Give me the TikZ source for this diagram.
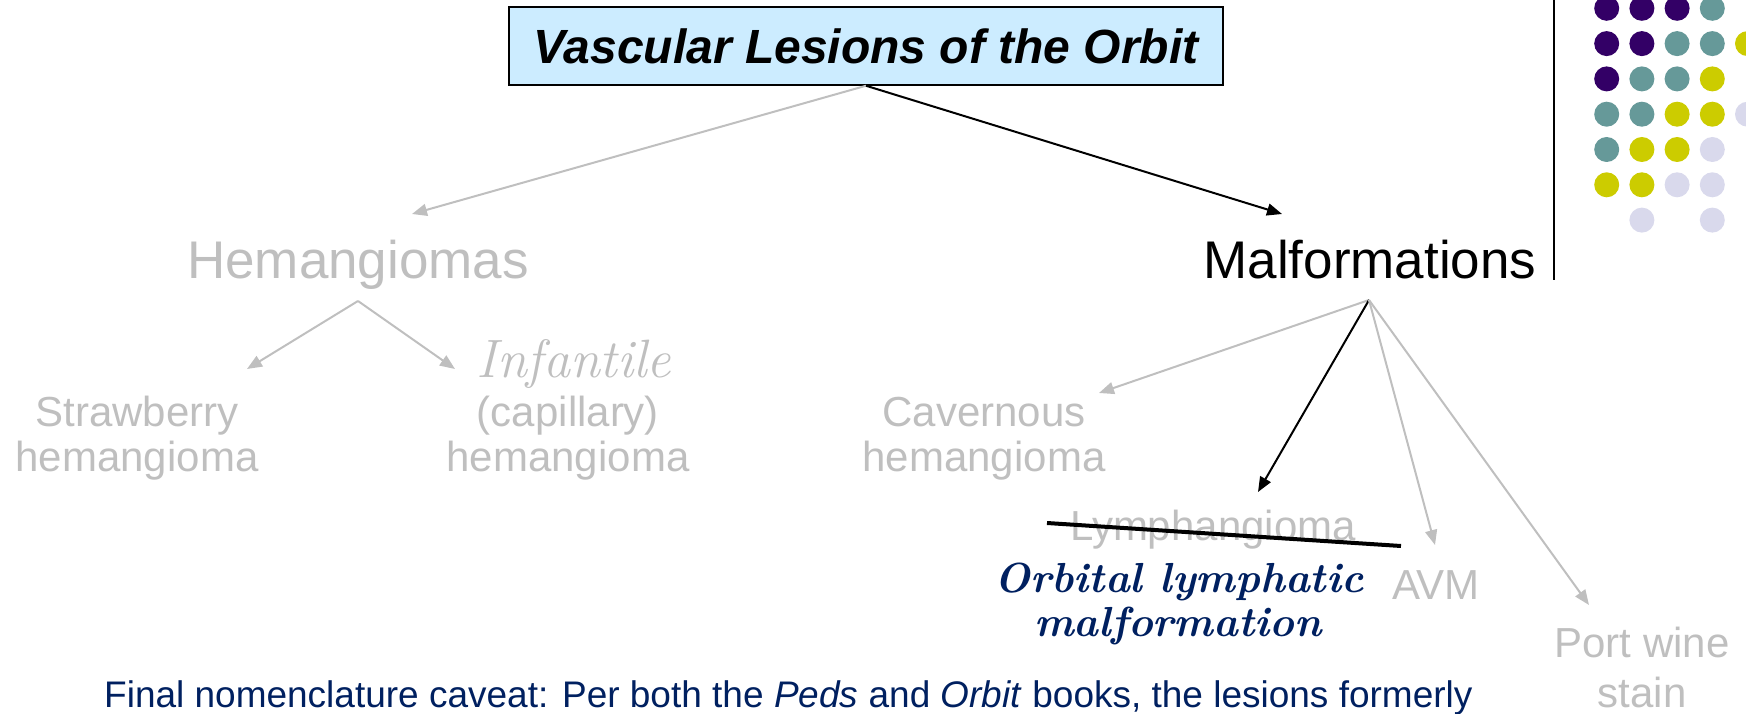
\documentclass[tikz,border=0pt]{standalone}
\usepackage{fontspec}
\setsansfont{Liberation Sans}
\usetikzlibrary{arrows.meta}
\definecolor{dim}{HTML}{BFBFBF}
\definecolor{navy}{HTML}{002060}
\definecolor{ltblue}{HTML}{CCECFF}
\definecolor{dpurp}{HTML}{330066}
\definecolor{dteal}{HTML}{669999}
\definecolor{dyell}{HTML}{CCCC00}
\definecolor{dlav}{HTML}{D9D9EC}
\tikzset{
  lvlone/.style={inner sep=0pt, anchor=base, font=\sffamily\fontsize{53}{60}\selectfont},
  lvltwo/.style={inner sep=0pt, anchor=base, text=dim, font=\sffamily\fontsize{42}{48}\selectfont},
  handdim/.style={inner sep=0pt, anchor=base, text=dim, font=\rmfamily\itshape\fontsize{54}{60}\selectfont},
  handnavy/.style={inner sep=0pt, anchor=base, text=navy, font=\rmfamily\bfseries\itshape\fontsize{42}{48}\selectfont},
  dimarrow/.style={draw=dim, line width=2pt, -{Triangle[length=15pt,width=12pt]}},
  blkarrow/.style={draw=black, line width=2pt, -{Triangle[length=15pt,width=12pt]}},
  dot/.style={radius=12.5pt}
}
\begin{document}
\begin{tikzpicture}[x=1pt,y=-1pt]
\useasboundingbox (0,0) rectangle (1746,714);

% decorative dots and rule
\foreach \c/\r/\col in {0/0/dpurp,1/0/dpurp,2/0/dpurp,3/0/dteal,
  0/1/dpurp,1/1/dpurp,2/1/dteal,3/1/dteal,4/1/dyell,
  0/2/dpurp,1/2/dteal,2/2/dteal,3/2/dyell,
  0/3/dteal,1/3/dteal,2/3/dyell,3/3/dyell,4/3/dlav,
  0/4/dteal,1/4/dyell,2/4/dyell,3/4/dlav,
  0/5/dyell,1/5/dyell,2/5/dlav,3/5/dlav,
  1/6/dlav,3/6/dlav}
  \fill[\col] ({1606.7+35.2*\c},{8.3+35.3*\r}) circle[dot];
\coordinate (ruletop) at (1554,0);
\coordinate (rulebot) at (1554,280);
\draw[line width=2.5pt] (ruletop) -- (rulebot);

% title
\node[draw=black, line width=1.5pt, fill=ltblue, minimum width=714pt, minimum height=78pt, inner sep=0pt,
  font=\sffamily\bfseries\itshape\fontsize{48}{56}\selectfont] (title) at (866,46) {Vascular Lesions of the Orbit};

% level one
\node[lvlone, text=dim] (hem) at (358,278) {Hemangiomas};
\node[lvlone] (mal) at (1370,278) {Malformations};

% level two
\node[lvltwo] (straw1) at (137,426) {Strawberry};
\node[lvltwo] (straw2) at (137,471) {hemangioma};
\node[handdim] (inf1) at (574,377) {Infantile};
\node[lvltwo] (inf2) at (568,426) {(capillary)};
\node[lvltwo] (inf3) at (568,471) {hemangioma};
\node[lvltwo] (cav1) at (984,426) {Cavernous};
\node[lvltwo] (cav2) at (984,471) {hemangioma};
\node[lvltwo] (lym) at (1213,540) {Lymphangioma};
\node[lvltwo] (avm) at (1436,599) {AVM};
\node[lvltwo] (pws1) at (1642,657) {Port wine};
\node[lvltwo] (pws2) at (1642,707) {stain};
\node[handnavy] (olm1) at (1179,592) {Orbital lymphatic};
\node[handnavy] (olm2) at (1178,636) {malformation};

% strike-through
\coordinate (strikeA) at (1047,523);
\coordinate (strikeB) at (1401,546);
\draw[line width=4pt] (strikeA) -- (strikeB);

% note
\node[inner sep=0pt, anchor=base west, text=navy, font=\sffamily\fontsize{37}{44}\selectfont] (note) at (104,707.5)
  {Final nomenclature caveat: Per both the \textit{Peds} and \textit{Orbit} books, the lesions formerly};

% connector end points
\coordinate (hemtip) at (412,214);
\coordinate (maltip) at (1282,214);
\coordinate (hemapex) at (358,301);
\coordinate (strawtip) at (247,369);
\coordinate (inftip) at (455,369);
\coordinate (malapex) at (1369,300);
\coordinate (cavtip) at (1099,393);
\coordinate (lymtip) at (1258,492);
\coordinate (avmtip) at (1435,545);
\coordinate (pwstip) at (1589,605);

% connectors
\draw[dimarrow] (title.south) -- (hemtip);
\draw[blkarrow] (title.south) -- (maltip);
\draw[dimarrow] (hemapex) -- (strawtip);
\draw[dimarrow] (hemapex) -- (inftip);
\draw[dimarrow] (malapex) -- (cavtip);
\draw[blkarrow] (malapex) -- (lymtip);
\draw[dimarrow] (malapex) -- (avmtip);
\draw[dimarrow] (malapex) -- (pwstip);
\end{tikzpicture}
\end{document}
